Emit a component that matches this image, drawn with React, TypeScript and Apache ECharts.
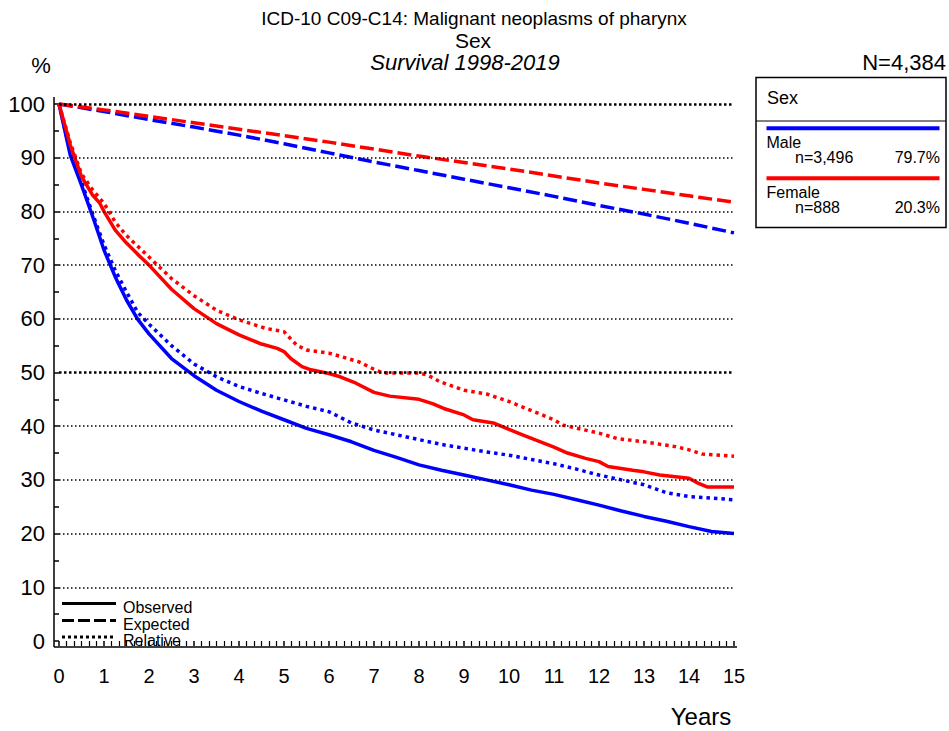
import React, { useEffect, useRef } from "react";
import * as echarts from "echarts";

// Years since diagnosis, 0..15
const YEARS = [0, 1, 2, 3, 4, 5, 6, 7, 8, 9, 10, 11, 12, 13, 14, 15];

// Horizontal reference levels (%); the bold ones are drawn heavier
const GRID_LEVELS = [10, 20, 30, 40, 60, 70, 80, 90];
const BOLD_LEVELS = [50, 100];

// Expected survival (%) at each full year
const maleExpected = [100, 98.6, 97.1, 95.7, 94.2, 92.6, 90.9, 89.2, 87.6, 86.0, 84.4, 82.8, 81.1, 79.5, 77.8, 76.0];
const femaleExpected = [100, 98.9, 97.7, 96.5, 95.3, 94.1, 92.9, 91.6, 90.3, 89.1, 87.9, 86.6, 85.3, 84.1, 82.9, 81.7];

// Observed survival (%) as [year, percent]
const maleObserved: [number, number][] = [
  [0, 100], [0.25, 90.5], [0.5, 84.9], [0.75, 79], [1, 72.8], [1.25, 67.8], [1.5, 63.5], [1.75, 59.9],
  [2, 57.2], [2.5, 52.6], [3, 49.4], [3.5, 46.7], [4, 44.6], [4.5, 42.8], [5, 41.2], [5.5, 39.6],
  [6, 38.4], [6.5, 37.1], [7, 35.5], [7.5, 34.2], [8, 32.8], [8.5, 31.8], [9, 30.9], [9.5, 30.0],
  [10, 29.1], [10.5, 28.1], [11, 27.3], [11.5, 26.3], [12, 25.3], [12.5, 24.2], [13, 23.2],
  [13.5, 22.3], [14, 21.3], [14.5, 20.4], [15, 20.0],
];
const femaleObserved: [number, number][] = [
  [0, 100], [0.25, 92.4], [0.5, 86.5], [0.75, 83], [0.9, 81.6], [1, 80], [1.25, 76.5], [1.5, 74.1],
  [1.75, 72], [2, 70], [2.5, 65.5], [3, 61.9], [3.5, 59.1], [4, 57], [4.5, 55.3], [4.85, 54.5],
  [5, 53.9], [5.15, 52.6], [5.4, 51.1], [5.6, 50.5], [6, 49.8], [6.25, 49.2], [6.6, 48], [7, 46.3],
  [7.35, 45.6], [8, 45], [8.3, 44.2], [8.55, 43.3], [9, 42.1], [9.2, 41.2], [9.65, 40.6], [10, 39.4],
  [10.3, 38.4], [10.6, 37.4], [11, 36.1], [11.3, 35], [11.7, 34], [12, 33.4], [12.2, 32.5],
  [12.75, 31.8], [13, 31.5], [13.35, 30.9], [14, 30.3], [14.2, 29.4], [14.4, 28.7], [15, 28.7],
];

// Relative survival (%) as [year, percent]
const maleRelative: [number, number][] = [
  [0, 100], [0.25, 91], [0.5, 85.5], [0.75, 79.5], [1, 73.8], [1.25, 69], [1.5, 65], [1.75, 61.2],
  [2, 59], [2.5, 55], [3, 51.6], [3.5, 49.2], [4, 47.4], [4.5, 46.1], [5, 44.9], [5.5, 43.7],
  [6, 42.7], [6.5, 40.6], [7, 39.3], [7.5, 38.4], [8, 37.5], [8.5, 36.6], [9, 35.9], [9.5, 35.2],
  [10, 34.6], [10.5, 33.8], [11, 33.0], [11.5, 32.0], [12, 30.9], [12.5, 30.0], [13, 29.1],
  [13.5, 27.6], [14, 26.9], [14.5, 26.6], [15, 26.3],
];
const femaleRelative: [number, number][] = [
  [0, 100], [0.25, 92.8], [0.5, 87], [0.75, 84], [1, 81.5], [1.25, 78], [1.5, 75.5], [1.75, 73.5],
  [2, 71.5], [2.5, 67.5], [3, 64.3], [3.5, 61.6], [4, 59.8], [4.6, 58.2], [5, 57.6], [5.28, 55.1],
  [5.5, 54.2], [6, 53.6], [6.3, 52.9], [6.66, 52], [7, 50.6], [7.2, 49.9], [8, 49.9], [8.2, 49.5],
  [8.46, 48.3], [9, 46.7], [9.5, 46], [10, 44.6], [10.5, 42.9], [11, 41.2], [11.2, 40.2], [12, 38.7],
  [12.4, 37.7], [13, 37.1], [13.7, 36.2], [14, 35.6], [14.3, 34.8], [15, 34.4],
];

const groups = [
  { name: "Male", n: "n=3,496", share: "79.7%", color: "#0000ff" },
  { name: "Female", n: "n=888", share: "20.3%", color: "#ff0000" },
];

const FONT = "'Liberation Sans', Arial, Helvetica, sans-serif";
const LINE_W = 3.5;
const DASH: number[] = [14, 5];
const DOT: number[] = [3.5, 4];

function curve(name: string, data: [number, number][], color: string, type: any) {
  return {
    name,
    type: "line",
    data,
    showSymbol: false,
    symbol: "none",
    smooth: false,
    silent: true,
    z: 3,
    lineStyle: { color, width: LINE_W, type },
  };
}

export default function App() {
  const ref = useRef<HTMLDivElement>(null);

  useEffect(() => {
    if (!ref.current) return;
    const chart = echarts.init(ref.current, null, { renderer: "svg" });

    const pairs = (vals: number[]) => YEARS.map((y, i) => [y, vals[i]] as [number, number]);

    const text = (x: number, y: number, s: string, size: number, extra: any = {}) => ({
      type: "text",
      x,
      y,
      silent: true,
      z: 10,
      style: {
        text: s,
        fontSize: size,
        fontFamily: FONT,
        fill: "#000",
        verticalAlign: "middle",
        align: "left",
        ...extra,
      },
    });
    const seg = (x1: number, y1: number, x2: number, y2: number, stroke: string, width: number, dash?: number[]) => ({
      type: "line",
      silent: true,
      z: 10,
      shape: { x1, y1, x2, y2 },
      style: { stroke, lineWidth: width, lineDash: dash },
    });

    const graphics: any[] = [
      text(474, 18, "ICD-10 C09-C14: Malignant neoplasms of pharynx", 19, { align: "center" }),
      text(473, 40, "Sex", 21, { align: "center" }),
      text(465, 62, "Survival 1998-2019", 22, { align: "center", fontStyle: "italic" }),
      text(41, 65, "%", 22, { align: "center" }),
      text(946, 62, "N=4,384", 22, { align: "right" }),
      text(701, 716, "Years", 24, { align: "center" }),
      // axis lines
      seg(54, 97, 54, 647, "#000", 1.5),
      seg(54, 647, 737, 647, "#000", 1.5),
      // line-style key
      seg(62, 603.5, 116, 603.5, "#000", 3),
      seg(62, 620.5, 116, 620.5, "#000", 3, [12, 4]),
      seg(62, 637, 116, 637, "#000", 3, [3, 3]),
      text(123, 607, "Observed", 16),
      text(123, 624, "Expected", 16),
      text(123, 640, "Relative", 16),
      // group key box
      {
        type: "rect",
        silent: true,
        z: 9,
        shape: { x: 756, y: 77.5, width: 190, height: 150 },
        style: { fill: "#fff", stroke: "#000", lineWidth: 1.5 },
      },
      seg(756, 121, 946, 121, "#000", 1.2),
      text(767, 98, "Sex", 18),
    ];
    groups.forEach((g, i) => {
      const base = 128.3 + i * 50;
      graphics.push(seg(766.5, base, 939.5, base, g.color, 4));
      graphics.push(text(766.5, base + 14.5, g.name, 16));
      graphics.push(text(795, base + 29, g.n, 16));
      graphics.push(text(940, base + 29, g.share, 16, { align: "right" }));
    });

    // Reference levels as a data-less carrier series with mark lines
    const levelSeries = {
      name: "levels",
      type: "line",
      data: [],
      silent: true,
      z: 1,
      markLine: {
        silent: true,
        symbol: "none",
        label: { show: false },
        data: [
          ...GRID_LEVELS.map((v) => ({
            yAxis: v,
            lineStyle: { color: "#000", width: 1.5, type: [1.5, 2.5] },
          })),
          ...BOLD_LEVELS.map((v) => ({
            yAxis: v,
            lineStyle: { color: "#000", width: 2.5, type: [2.5, 2.5] },
          })),
        ],
      },
    };

    chart.setOption({
      animation: false,
      backgroundColor: "#fff",
      grid: { left: 59, right: 215, top: 104, bottom: 90, containLabel: false },
      xAxis: {
        type: "value",
        min: 0,
        max: 15,
        interval: 1,
        offset: 6,
        axisLine: { show: false },
        axisTick: { show: true, length: 5, lineStyle: { color: "#000", width: 1.5 } },
        minorTick: { show: true, splitNumber: 6, length: 5, lineStyle: { color: "#000", width: 1.2 } },
        axisLabel: { color: "#000", fontSize: 20, fontFamily: FONT, margin: 19 },
        splitLine: { show: false },
      },
      yAxis: {
        type: "value",
        min: 0,
        max: 100,
        interval: 10,
        offset: 5,
        axisLine: { show: false },
        axisTick: { show: true, length: 5, lineStyle: { color: "#000", width: 1.5 } },
        minorTick: { show: true, splitNumber: 2, length: 5, lineStyle: { color: "#000", width: 1.5 } },
        axisLabel: { color: "#000", fontSize: 22, fontFamily: FONT, margin: 9 },
        splitLine: { show: false },
      },
      series: [
        levelSeries,
        curve("Male expected", pairs(maleExpected), groups[0].color, DASH),
        curve("Male relative", maleRelative, groups[0].color, DOT),
        curve("Male observed", maleObserved, groups[0].color, "solid"),
        curve("Female expected", pairs(femaleExpected), groups[1].color, DASH),
        curve("Female relative", femaleRelative, groups[1].color, DOT),
        curve("Female observed", femaleObserved, groups[1].color, "solid"),
      ],
      graphic: graphics,
    });

    return () => chart.dispose();
  }, []);

  return <div ref={ref} style={{ position: "fixed", left: 0, top: 0, width: 949, height: 731 }} />;
}
